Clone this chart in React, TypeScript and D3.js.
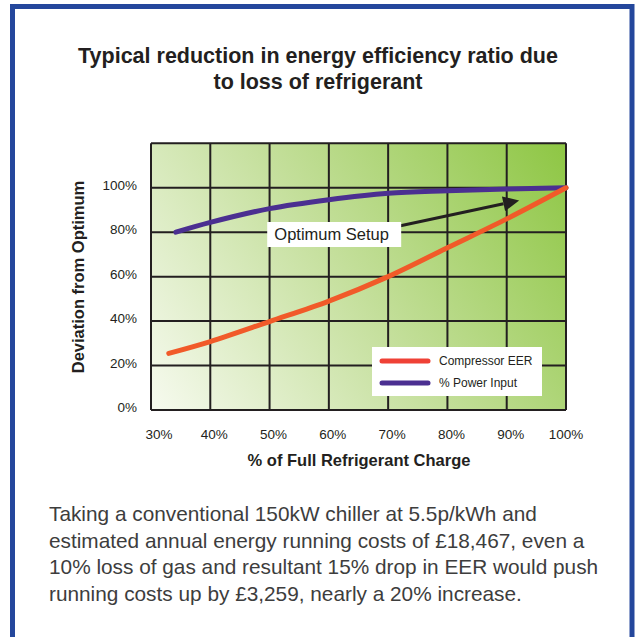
import * as d3 from "d3";

// % of full refrigerant charge (x) vs deviation from optimum (y)
const eerCharge = [33, 40, 50, 60, 70, 80, 90, 100];
const eerValue = [25.5, 30.8, 39.8, 49, 60, 73, 86, 100];
const powerCharge = [34.2, 40, 50, 60, 70, 80, 90, 100];
const powerValue = [80, 84.4, 90.6, 94.6, 97.5, 98.6, 99.4, 100];

const xTicks = [30, 40, 50, 60, 70, 80, 90, 100];
const yTicks = [0, 20, 40, 60, 80, 100];
const yGrid = [0, 20, 40, 60, 80, 100, 120];

const seriesNames = ["Compressor EER", "% Power Input"];
const titleLines = ["Typical reduction in energy efficiency ratio due", "to loss of refrigerant"];
const bodyLines = [
  "Taking a conventional 150kW chiller at 5.5p/kWh and",
  "estimated annual energy running costs of £18,467, even a",
  "10% loss of gas and resultant 15% drop in EER would push",
  "running costs up by £3,259, nearly a 20% increase.",
];

// annotation: label box and arrow in data units
const noteLabel = "Optimum Setup";
const noteFrom = [72.2, 82.9];
const noteTo = [92.1, 94.3];

const W = 637;
const H = 637;
const plot = { left: 151, right: 566, top: 143.3, bottom: 410 };
const font = "'Liberation Sans', Arial, Helvetica, sans-serif";
const ink = "#231f20";
const orange = "#f15a29";
const purple = "#4b2f91";

export default function App() {
  const x = d3.scaleLinear().domain([30, 100]).range([plot.left, plot.right]);
  const y = d3.scaleLinear().domain([0, 120]).range([plot.bottom, plot.top]);

  const line = d3
    .line<[number, number]>()
    .x((d) => x(d[0]))
    .y((d) => y(d[1]))
    .curve(d3.curveCatmullRom.alpha(0.5));

  const eerPts = eerCharge.map((c, i) => [c, eerValue[i]] as [number, number]);
  const powPts = powerCharge.map((c, i) => [c, powerValue[i]] as [number, number]);

  // arrow geometry
  const x0 = x(noteFrom[0]);
  const y0 = y(noteFrom[1]);
  const x1 = x(noteTo[0]);
  const y1 = y(noteTo[1]);
  const ang = Math.atan2(y1 - y0, x1 - x0);
  const headLen = 16;
  const headW = 7.5;
  const bx = x1 - headLen * Math.cos(ang);
  const by = y1 - headLen * Math.sin(ang);
  const px = -Math.sin(ang) * headW;
  const py = Math.cos(ang) * headW;

  const legendX = plot.left + 221;
  const legendY = plot.bottom - 63;

  return (
    <svg
      width={W}
      height={H}
      style={{ position: "fixed", left: 0, top: 0, background: "#fff" }}
    >
      <defs>
        <linearGradient id="bg" gradientUnits="userSpaceOnUse" x1={140} y1={440} x2={580} y2={140}>
          <stop offset="0" stopColor="#fcfdf8" />
          <stop offset="0.5" stopColor="#c4df9b" />
          <stop offset="1" stopColor="#8bc53f" />
        </linearGradient>
      </defs>

      <rect x={12.5} y={6.5} width={619.5} height={700} fill="#fff" stroke="#24479c" strokeWidth={5} />

      {titleLines.map((t, i) => (
        <text
          key={t}
          x={318}
          y={63 + i * 26}
          textAnchor="middle"
          fontFamily={font}
          fontWeight="bold"
          fontSize={21.5}
          fill={ink}
        >
          {t}
        </text>
      ))}

      <rect
        x={plot.left}
        y={plot.top}
        width={plot.right - plot.left}
        height={plot.bottom - plot.top}
        fill="url(#bg)"
      />

      {xTicks.map((t) => (
        <line key={"vx" + t} x1={x(t)} x2={x(t)} y1={plot.top} y2={plot.bottom} stroke={ink} strokeWidth={2} />
      ))}
      {yGrid.map((t) => (
        <line key={"hy" + t} x1={plot.left} x2={plot.right} y1={y(t)} y2={y(t)} stroke={ink} strokeWidth={2} />
      ))}

      {yTicks.map((t) => (
        <text key={"yl" + t} x={137} y={y(t) + 2} textAnchor="end" fontFamily={font} fontSize={13.5} fill={ink}>
          {t}%
        </text>
      ))}
      {xTicks.map((t, i) => (
        <text
          key={"xl" + t}
          x={x(t) + (i === 0 ? 8 : i === xTicks.length - 1 ? 0 : 4)}
          y={439}
          textAnchor="middle"
          fontFamily={font}
          fontSize={13.5}
          fill={ink}
        >
          {t}%
        </text>
      ))}

      <text
        transform="translate(84,277) rotate(-90)"
        textAnchor="middle"
        fontFamily={font}
        fontWeight="bold"
        fontSize={16.5}
        fill={ink}
      >
        Deviation from Optimum
      </text>
      <text x={359} y={466} textAnchor="middle" fontFamily={font} fontWeight="bold" fontSize={16.5} fill={ink}>
        % of Full Refrigerant Charge
      </text>

      {/* arrow annotation */}
      <line x1={x0 - 10} y1={y0 + 2} x2={bx} y2={by} stroke={ink} strokeWidth={3} />
      <polygon points={`${x1},${y1} ${bx + px},${by + py} ${bx - px},${by - py}`} fill={ink} />

      <path d={line(powPts) || ""} fill="none" stroke={purple} strokeWidth={5} strokeLinecap="round" />
      <path d={line(eerPts) || ""} fill="none" stroke={orange} strokeWidth={5} strokeLinecap="round" />

      <rect x={x(49.6)} y={222} width={x0 - x(49.6)} height={25} fill="#fff" />
      <text x={x(50.8)} y={240} fontFamily={font} fontSize={16.5} fill={ink}>
        {noteLabel}
      </text>

      {/* legend */}
      <rect x={legendX} y={legendY} width={170} height={49} fill="#fff" />
      {seriesNames.map((s, i) => (
        <g key={s} transform={`translate(${legendX},${legendY + 14 + i * 22})`}>
          <line
            x1={10}
            x2={56}
            y1={0}
            y2={0}
            stroke={i === 0 ? "#ef4136" : purple}
            strokeWidth={5}
            strokeLinecap="round"
          />
          <text x={67} y={4} fontFamily={font} fontSize={12} fill={ink}>
            {s}
          </text>
        </g>
      ))}

      {bodyLines.map((t, i) => (
        <text key={i} x={49} y={521 + i * 26.7} fontFamily={font} fontSize={20.8} fill="#3d3d3d">
          {t}
        </text>
      ))}
    </svg>
  );
}
